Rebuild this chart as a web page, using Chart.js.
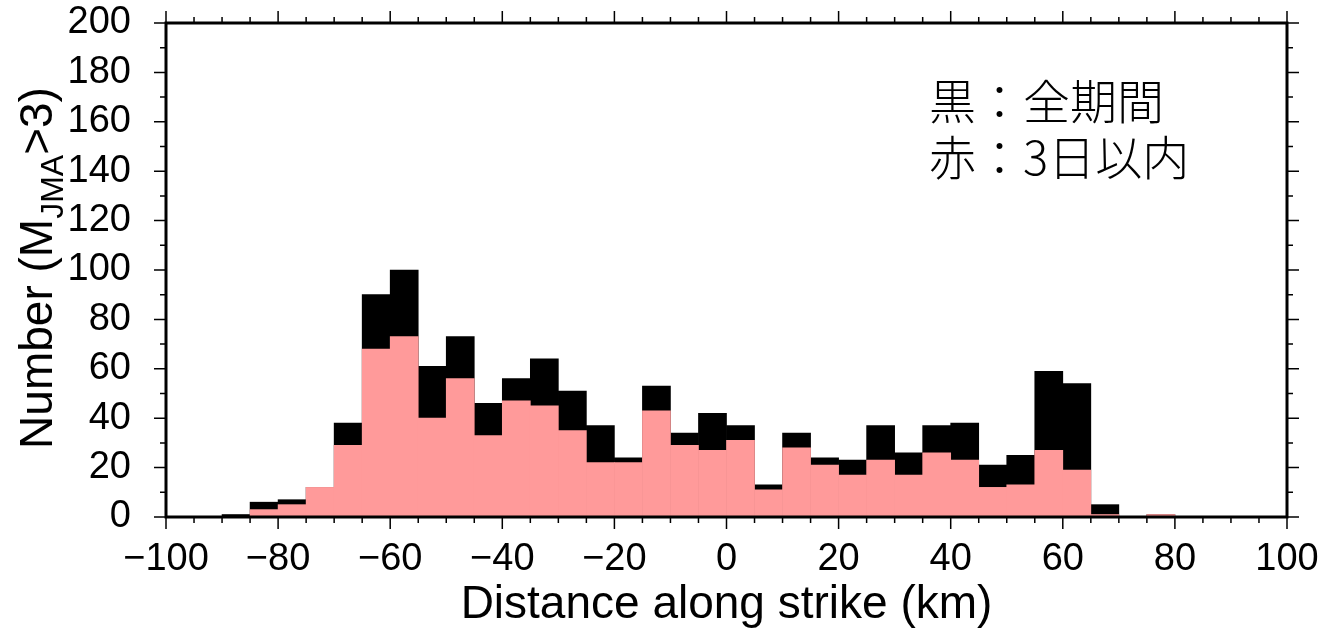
<!DOCTYPE html>
<html>
<head>
<meta charset="utf-8">
<script src="https://cdn.jsdelivr.net/npm/chart.js@4.4.1/dist/chart.umd.min.js"></script>
<style>
html,body{margin:0;padding:0;background:#fff}
#wrap{width:1327px;height:636px}
</style>
</head>
<body>
<div id="wrap"><canvas id="c"></canvas></div>
<script>
// 5 km bins, centre of each bin
const binCenters = [-97.5,-92.5,-87.5,-82.5,-77.5,-72.5,-67.5,-62.5,-57.5,-52.5,
  -47.5,-42.5,-37.5,-32.5,-27.5,-22.5,-17.5,-12.5,-7.5,-2.5,
  2.5,7.5,12.5,17.5,22.5,27.5,32.5,37.5,42.5,47.5,
  52.5,57.5,62.5,67.5,72.5,77.5,82.5,87.5,92.5,97.5];
// black: whole period
const allPeriod = [0,0,1,6,7,12,38,90,100,61,
  73,46,56,64,51,37,24,53,34,42,
  37,13,34,24,23,37,26,37,38,21,
  25,59,54,5,0,1,0,0,0,0];
// red: within 3 days
const within3Days = [0,0,0,3,5,12,29,68,73,40,
  56,33,47,45,35,22,22,43,29,27,
  31,11,28,21,17,23,17,26,23,12,
  13,27,19,1,0,1,0,0,0,0];
const xMajor = [-100,-80,-60,-40,-20,0,20,40,60,80,100];
const yMajor = [0,20,40,60,80,100,120,140,160,180,200];
const notes = ['黒：全期間','赤：3日以内'];

const FONT = '"Liberation Sans", Arial, Helvetica, sans-serif';

function pts(vals){ return binCenters.map((x,i)=>({x, y: vals[i]})); }

// frame, ticks on all sides, titles and note
const decor = {
  id:'decor',
  afterDraw(chart){
    const ctx = chart.ctx, a = chart.chartArea;
    const xs = chart.scales.x, ys = chart.scales.y;
    ctx.save();
    ctx.strokeStyle = '#000';
    ctx.lineWidth = 1.5;
    ctx.beginPath();
    for(let v=-100; v<=100; v+=5){
      const px = xs.getPixelForValue(v);
      const len = (v % 20 === 0) ? 12 : 6;
      ctx.moveTo(px, a.bottom); ctx.lineTo(px, a.bottom+len);
      ctx.moveTo(px, a.top); ctx.lineTo(px, a.top-len);
    }
    for(let v=0; v<=200; v+=10){
      const py = ys.getPixelForValue(v);
      const len = (v % 20 === 0) ? 12 : 6;
      ctx.moveTo(a.left, py); ctx.lineTo(a.left-len, py);
      ctx.moveTo(a.right, py); ctx.lineTo(a.right+len, py);
    }
    ctx.stroke();
    ctx.lineWidth = 3;
    ctx.strokeRect(a.left, a.top, a.right-a.left, a.bottom-a.top);

    // x title
    ctx.fillStyle = '#000';
    ctx.font = '46px ' + FONT;
    ctx.textAlign = 'center';
    ctx.textBaseline = 'alphabetic';
    ctx.fillText('Distance along strike (km)', (a.left+a.right)/2, 618);

    // y title with subscript
    ctx.translate(52, 268);
    ctx.rotate(-Math.PI/2);
    const big = '46px ' + FONT, small = '32px ' + FONT;
    ctx.font = big; const w1 = ctx.measureText('Number (M').width, w3 = ctx.measureText('>3)').width;
    ctx.font = small; const w2 = ctx.measureText('JMA').width;
    let x0 = -(w1+w2+w3)/2;
    ctx.textAlign = 'left';
    ctx.font = big; ctx.fillText('Number (M', x0, 0);
    ctx.font = small; ctx.fillText('JMA', x0+w1, 11);
    ctx.font = big; ctx.fillText('>3)', x0+w1+w2, 0);
    ctx.restore();

    // note
    ctx.save();
    ctx.fillStyle = '#000';
    ctx.font = '300 47px "Noto Sans CJK JP", sans-serif';
    ctx.textAlign = 'left';
    ctx.textBaseline = 'middle';
    notes.forEach((t,i)=>ctx.fillText(t, 929, 101 + i*56));
    ctx.restore();
  }
};

new Chart(document.getElementById('c'), {
  type:'bar',
  data:{
    datasets:[
      {label:'3日以内', data:pts(within3Days), backgroundColor:'#ff9a9a', order:0,
       barPercentage:1, categoryPercentage:1, borderWidth:0},
      {label:'全期間', data:pts(allPeriod), backgroundColor:'#000000', order:1,
       barPercentage:1, categoryPercentage:1, borderWidth:0}
    ]
  },
  options:{
    responsive:true,
    maintainAspectRatio:false,
    animation:false,
    devicePixelRatio:1,
    grouped:false,
    layout:{padding:{top:23, right:40, left:0, bottom:0}},
    plugins:{legend:{display:false}, tooltip:{enabled:false}},
    scales:{
      x:{
        type:'linear', min:-100, max:100, offset:false,
        grid:{display:false}, border:{display:false},
        afterBuildTicks: s => { s.ticks = xMajor.map(v=>({value:v})); },
        ticks:{autoSkip:false, maxRotation:0, padding:12, color:'#000',
          font:{family:FONT, size:38},
          callback: v => String(v).replace('-', '\u2212')},
        afterFit: s => { s.height = 119; s.paddingLeft = 0; s.paddingRight = 0; }
      },
      y:{
        min:0, max:200,
        grid:{display:false}, border:{display:false},
        afterBuildTicks: s => { s.ticks = yMajor.map(v=>({value:v})); },
        ticks:{autoSkip:false, padding:27, color:'#000', font:{family:FONT, size:38}},
        afterFit: s => { s.width = 166; s.paddingTop = 0; s.paddingBottom = 0; }
      }
    }
  },
  plugins:[decor]
});
</script>
</body>
</html>
